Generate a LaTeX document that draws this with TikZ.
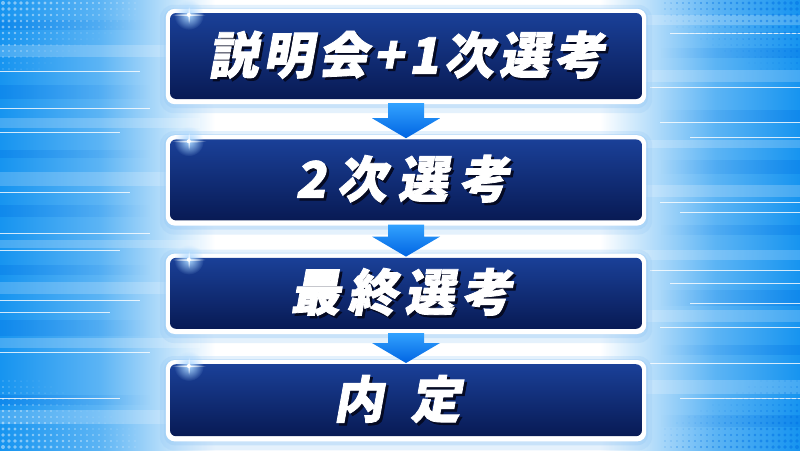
\documentclass[tikz,border=0pt]{standalone}
\usepackage{fontspec}
\newfontfamily\stagefont{Noto Sans CJK JP}[FakeSlant=0.18, FakeBold=1.6]
\usetikzlibrary{positioning,calc,fadings}

\definecolor{bgblue}{RGB}{22,148,240}
\definecolor{bgdeep}{RGB}{0,112,228}
\definecolor{boxtop}{RGB}{26,64,152}
\definecolor{boxbot}{RGB}{8,26,84}
\definecolor{arrowtop}{RGB}{50,162,255}
\definecolor{arrowbot}{RGB}{0,100,226}
\definecolor{haloc}{RGB}{150,200,245}
\definecolor{flarec}{RGB}{170,215,255}
\definecolor{shadowc}{RGB}{5,10,35}

\tikzfading[name=flarefade, inner color=transparent!0, outer color=transparent!100]
\tikzfading[name=fadeeast, left color=transparent!0, right color=transparent!100]
\tikzfading[name=fadewest, left color=transparent!100, right color=transparent!0]

\pgfdeclarelayer{back}
\pgfdeclarelayer{halo}
\pgfsetlayers{back,halo,main}

\tikzset{
  stage/.style={rounded corners=6pt, top color=boxtop, bottom color=boxbot,
    minimum width=472pt, inner sep=0pt, text=white,
    font=\stagefont\bfseries\fontsize{50}{56}\selectfont},
  flowarrow/.style={top color=arrowtop, bottom color=arrowbot},
}

% white text with a dark drop shadow
\newcommand\dropped[1]{\rlap{\kern2.5pt\raisebox{-2.5pt}{\color{shadowc}#1}}#1}

% block arrow from one stage down to the next
\newcommand\stagearrow[2]{%
  \shade[flowarrow] ($(#1.south)+(-18,4)$) -- ($(#1.south)+(18,4)$)
    -- ($(#2.north)+(18,-21)$) -- ($(#2.north)+(34,-21)$) -- ($(#2.north)+(0,-1)$)
    -- ($(#2.north)+(-34,-21)$) -- ($(#2.north)+(-18,-21)$) -- cycle;}

% halftone dots in a corner: corner x, corner y, x direction, y direction, style
\newcommand\halftone[5]{%
  \foreach \i in {0,...,22}{\foreach \j in {0,...,11}{%
    \pgfmathsetmacro\dotr{2-0.06*\i-0.12*\j}%
    \ifdim\dotr pt>0.3pt
      \fill[#5] ({#1+#3*(3+6*\i)},{#2+#4*(3+6*\j)}) circle (\dotr pt);
    \fi}}}

\begin{document}
\begin{tikzpicture}[x=1pt,y=-1pt]
  \useasboundingbox (0,0) rectangle (800,450);

  \node[stage, minimum height=86pt] (info) at (406,56)
    {\addfontfeatures{LetterSpace=10}\dropped{説明会+1次選考}};
  \node[stage, minimum height=81pt, below=40pt of info] (second)
    {\addfontfeatures{LetterSpace=22}\dropped{2次選考}\kern8pt};
  \node[stage, minimum height=71pt, below=37pt of second] (final)
    {\addfontfeatures{LetterSpace=14}\dropped{最終選考}\kern10pt};
  \node[stage, minimum height=72pt, below=35pt of final] (offer)
    {\addfontfeatures{LetterSpace=54}\dropped{内定}\kern18pt};

  \stagearrow{info}{second}
  \stagearrow{second}{final}
  \stagearrow{final}{offer}

  % lens flares on the box corners
  \foreach \stg in {info,second,final,offer}{
    \fill[flarec, path fading=flarefade] ([shift={(19,2)}]\stg.north west) circle (15);
    \fill[white, path fading=flarefade] ([shift={(19,2)}]\stg.north west) ellipse (18 and 1.5);
    \fill[white, path fading=flarefade] ([shift={(19,2)}]\stg.north west) ellipse (1.3 and 10);
    \fill[white] ([shift={(19,2)}]\stg.north west) circle (2);
  }

  % white rim and glow behind the boxes
  \begin{pgfonlayer}{halo}
    \foreach \stg in {info,second,final,offer}{
      \fill[haloc, opacity=.25, rounded corners=14pt] ([shift={(-10,-8)}]\stg.north west) rectangle ([shift={(10,14)}]\stg.south east);
      \fill[haloc, opacity=.35, rounded corners=11pt] ([shift={(-6,-5)}]\stg.north west) rectangle ([shift={(6,9)}]\stg.south east);
      \fill[white, rounded corners=9pt] ([shift={(-4,-4)}]\stg.north west) rectangle ([shift={(4,5)}]\stg.south east);
    }
  \end{pgfonlayer}

  % background
  \begin{pgfonlayer}{back}
    \fill[white] (0,0) rectangle (800,450);
    \shade[left color=bgblue, right color=bgblue!70] (0,0) rectangle (100,450);
    \shade[left color=bgblue!70, right color=white] (100,0) rectangle (215,450);
    \shade[left color=white, right color=bgblue!70] (600,0) rectangle (715,450);
    \shade[left color=bgblue!70, right color=bgblue] (715,0) rectangle (800,450);
    % streaks
    \foreach \y/\h in {20/10, 85/14, 150/8, 205/12, 265/10, 320/16, 395/10}
      \fill[bgdeep, opacity=.3, path fading=fadeeast] (0,\y) rectangle (150,\y+\h);
    \foreach \y/\h in {45/12, 118/10, 172/14, 240/8, 282/12, 338/10, 410/14}
      \fill[white, opacity=.2] (0,\y) rectangle (200,\y+\h);
    \foreach \y/\h in {48/10, 110/12, 160/14, 225/10, 290/16, 345/10, 415/12}
      \fill[bgdeep, opacity=.3, path fading=fadewest] (660,\y) rectangle (800,\y+\h);
    \foreach \y/\h in {15/10, 70/12, 140/8, 185/12, 250/10, 310/12, 380/14}
      \fill[white, opacity=.2] (610,\y) rectangle (800,\y+\h);
    \foreach \y/\l in {71/140, 108/150, 132/120, 192/130, 233/150, 250/120, 300/140, 312/110, 352/150, 398/120}
      \draw[white, opacity=.8, line width=1pt] (0,\y) -- (\l,\y);
    \foreach \y/\l in {33/670, 87/650, 122/660, 137/690, 202/660, 212/680, 270/650, 283/670, 303/690, 327/660, 363/650, 398/680}
      \draw[white, opacity=.8, line width=1pt] (\l,\y) -- (800,\y);
    % halftone corners
    \halftone{0}{0}{1}{1}{white, opacity=.45}
    \halftone{0}{450}{1}{-1}{white, opacity=.45}
    \halftone{800}{0}{-1}{1}{bgdeep, opacity=.5}
    \halftone{800}{450}{-1}{-1}{bgdeep, opacity=.5}
  \end{pgfonlayer}
\end{tikzpicture}
\end{document}
